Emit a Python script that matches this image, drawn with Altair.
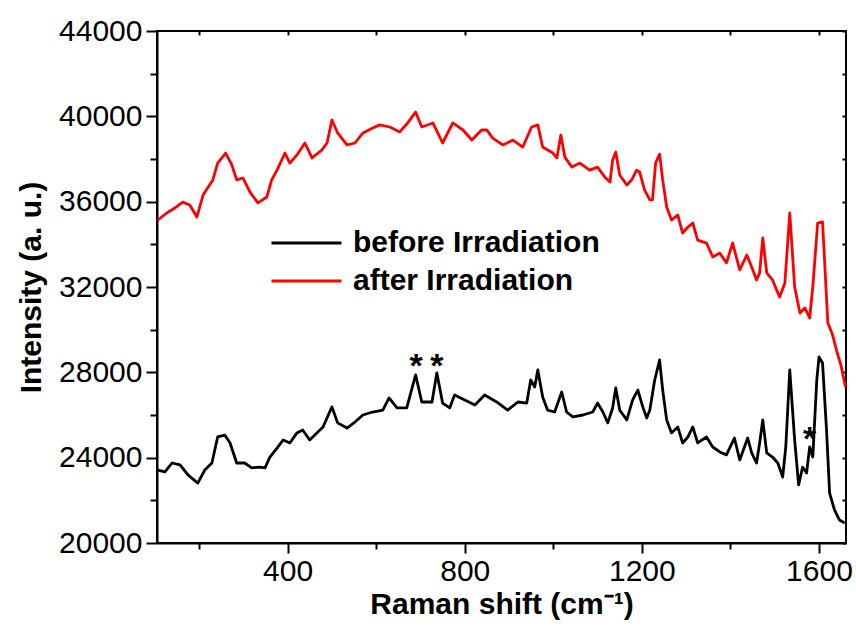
import altair as alt
import pandas as pd

# ---- data ----
x_before = [107, 123, 139, 157, 175, 197, 213, 229, 242, 258, 270, 285, 303, 319, 337, 349, 360, 376, 390, 405,
            421, 434, 450, 466, 480, 500, 513, 534, 552, 570, 592, 615, 629, 647, 669, 689, 703, 726, 737, 750,
            766, 777, 800, 823, 845, 872, 897, 920, 940, 949, 958, 965, 976, 987, 1003, 1019, 1030, 1044, 1067, 1089,
            1100, 1112, 1123, 1134, 1141, 1150, 1166, 1179, 1191, 1202, 1211, 1218, 1229, 1240, 1247, 1256, 1267, 1281, 1292, 1304,
            1315, 1326, 1346, 1360, 1376, 1391, 1409, 1421, 1439, 1448, 1459, 1466, 1473, 1482, 1495, 1507, 1518, 1525, 1534, 1545,
            1554, 1563, 1572, 1579, 1586, 1595, 1600, 1608, 1617, 1624, 1635, 1646, 1658]
y_before = [23420, 23330, 23750, 23660, 23190, 22810, 23420, 23750, 24970, 25060, 24690, 23750, 23750, 23520, 23560, 23520, 24030, 24450, 24830, 24690,
            25160, 25300, 24830, 25160, 25440, 26380, 25630, 25390, 25670, 26000, 26140, 26230, 26800, 26330, 26330, 27880, 26610, 26610, 27970, 26560,
            26330, 26940, 26700, 26470, 26940, 26610, 26230, 26610, 26560, 27640, 27310, 28110, 26840, 26230, 26140, 27080, 26140, 25910, 26000, 26140,
            26560, 26140, 25630, 26330, 27270, 26230, 25770, 26700, 27170, 26380, 25860, 26230, 27640, 28580, 27170, 25770, 25160, 25440, 24690, 24970,
            25440, 24690, 24970, 24500, 24270, 24130, 24920, 23890, 24920, 24220, 23750, 24690, 25770, 24220, 24030, 23750, 23090, 24500, 28110, 24830,
            22720, 23560, 23280, 24500, 24030, 27640, 28720, 28440, 25300, 22340, 21550, 21080, 20940]

x_after = [107, 127, 145, 163, 179, 195, 209, 231, 242, 260, 274, 285, 299, 315, 333, 353, 364, 376, 394, 405,
           421, 439, 455, 477, 489, 500, 513, 534, 552, 570, 592, 608, 631, 653, 671, 689, 703, 728, 750, 773,
           796, 816, 838, 850, 863, 886, 909, 931, 951, 965, 976, 999, 1008, 1017, 1026, 1042, 1060, 1082, 1100, 1116,
           1128, 1134, 1141, 1150, 1166, 1177, 1188, 1195, 1206, 1218, 1224, 1231, 1240, 1247, 1256, 1267, 1281, 1292, 1304, 1315,
           1326, 1346, 1360, 1376, 1391, 1405, 1421, 1437, 1448, 1459, 1466, 1473, 1482, 1495, 1511, 1523, 1534, 1545, 1557, 1568,
           1579, 1586, 1597, 1608, 1620, 1630, 1640, 1650, 1660]
y_after = [35140, 35470, 35700, 35980, 35840, 35280, 36310, 37020, 37810, 38280, 37720, 37020, 37110, 36450, 35940, 36220, 37020, 37480, 38280, 37810,
           38190, 38750, 38050, 38420, 38750, 39830, 39220, 38660, 38750, 39220, 39450, 39600, 39500, 39270, 39690, 40200, 39500, 39690, 38750, 39690,
           39360, 38890, 39360, 39360, 38980, 38660, 38890, 38560, 39500, 39600, 38560, 38280, 38050, 39120, 38090, 37620, 37810, 37480, 37620, 37160,
           36920, 37950, 38330, 37250, 36780, 37020, 37480, 37390, 36550, 36080, 36080, 37810, 38230, 37020, 35750, 35140, 35380, 34530, 34810, 35000,
           34200, 34060, 33410, 33590, 33130, 34060, 32800, 33500, 32940, 32330, 32660, 34300, 32660, 32330, 31530, 32190, 35470, 32000, 30780, 31020,
           30550, 32000, 35000, 35050, 30310, 29800, 29000, 28300, 27300]

series_names = ["before Irradiation", "after Irradiation"]
series_colors = ["#000000", "#ff0000"]

star_x = [690, 737, 1579]
star_y = [27760, 27760, 24340]
star_text = ["*", "*", "*"]

x_major = [400, 800, 1200, 1600]
x_minor = [200, 600, 1000, 1400]
y_major = [20000, 24000, 28000, 32000, 36000, 40000, 44000]
y_minor = [22000, 26000, 30000, 34000, 38000, 42000]
x_domain = [105, 1661]
y_domain = [20000, 44000]

FONT = "Liberation Sans"

df = pd.concat([
    pd.DataFrame({"shift": x_before, "intensity": y_before, "series": series_names[0]}),
    pd.DataFrame({"shift": x_after, "intensity": y_after, "series": series_names[1]}),
], ignore_index=True)
stars = pd.DataFrame({"shift": star_x, "intensity": star_y, "t": star_text})

xscale = alt.Scale(domain=x_domain, nice=False, zero=False)
yscale = alt.Scale(domain=y_domain, nice=False, zero=False)

tick_style = dict(grid=False, tickWidth=2, tickColor="black", domainColor="black", domainWidth=2)

x_axis = alt.Axis(
    orient="bottom", values=x_major, format="d", tickSize=10,
    labelFont=FONT, labelFontSize=30, labelColor="black", labelPadding=3,
    title="Raman shift (cm\u207b\u00b9)", titleFont=FONT, titleFontSize=30, titleFontWeight="bold",
    titleColor="black", titlePadding=3, **tick_style,
)
y_axis = alt.Axis(
    orient="left", values=y_major, format="d", tickSize=11,
    labelFont=FONT, labelFontSize=30, labelColor="black", labelPadding=4,
    title="Intensity (a. u.)", titleFont=FONT, titleFontSize=30, titleFontWeight="bold",
    titleColor="black", titlePadding=12, **tick_style,
)

lines = alt.Chart(df).mark_line(strokeWidth=2.8, strokeJoin="round").encode(
    x=alt.X("shift:Q", scale=xscale, axis=x_axis),
    y=alt.Y("intensity:Q", scale=yscale, axis=y_axis),
    color=alt.Color(
        "series:N",
        scale=alt.Scale(domain=series_names, range=series_colors),
        legend=alt.Legend(
            title=None, orient="none", legendX=113, legendY=193, padding=0,
            symbolType="stroke", symbolSize=4900, symbolStrokeWidth=2.8, clipHeight=38,
            labelFont=FONT, labelFontSize=30, labelFontWeight="bold", labelColor="black",
            labelOffset=10, labelLimit=500, rowPadding=0,
        ),
    ),
    detail="series:N",
)

minor = alt.Chart(df).mark_point(opacity=0).encode(
    x=alt.X("shift:Q", scale=xscale, axis=alt.Axis(
        orient="bottom", values=x_minor, labels=False, title=None, domain=False, tickSize=6, **tick_style)),
    y=alt.Y("intensity:Q", scale=yscale, axis=alt.Axis(
        orient="left", values=y_minor, labels=False, title=None, domain=False, tickSize=7, **tick_style)),
)

mirror = alt.Chart(df).mark_point(opacity=0).encode(
    x=alt.X("shift:Q", scale=xscale, axis=alt.Axis(
        orient="top", values=x_major + x_minor, labels=False, title=None, domain=False,
        tickSize=4, offset=-4, **tick_style)),
    y=alt.Y("intensity:Q", scale=yscale, axis=alt.Axis(
        orient="right", values=y_major + y_minor, labels=False, title=None, domain=False,
        tickSize=4, offset=-4, **tick_style)),
)

star_layer = alt.Chart(stars).mark_text(
    font=FONT, fontSize=34, fontWeight="bold", color="black", baseline="alphabetic", align="center"
).encode(
    x=alt.X("shift:Q", scale=xscale, axis=None),
    y=alt.Y("intensity:Q", scale=yscale, axis=None),
    text="t:N",
)

chart = alt.layer(lines, minor, mirror, star_layer).resolve_axis(
    x="independent", y="independent"
).properties(
    width=689, height=512,
    autosize=alt.AutoSizeParams(type="none"),
    padding={"left": 157, "top": 31, "right": 10, "bottom": 89},
    background="white",
).configure_view(stroke="black", strokeWidth=2)

chart.save("out.html", embed_options={"renderer": "svg", "actions": False})
